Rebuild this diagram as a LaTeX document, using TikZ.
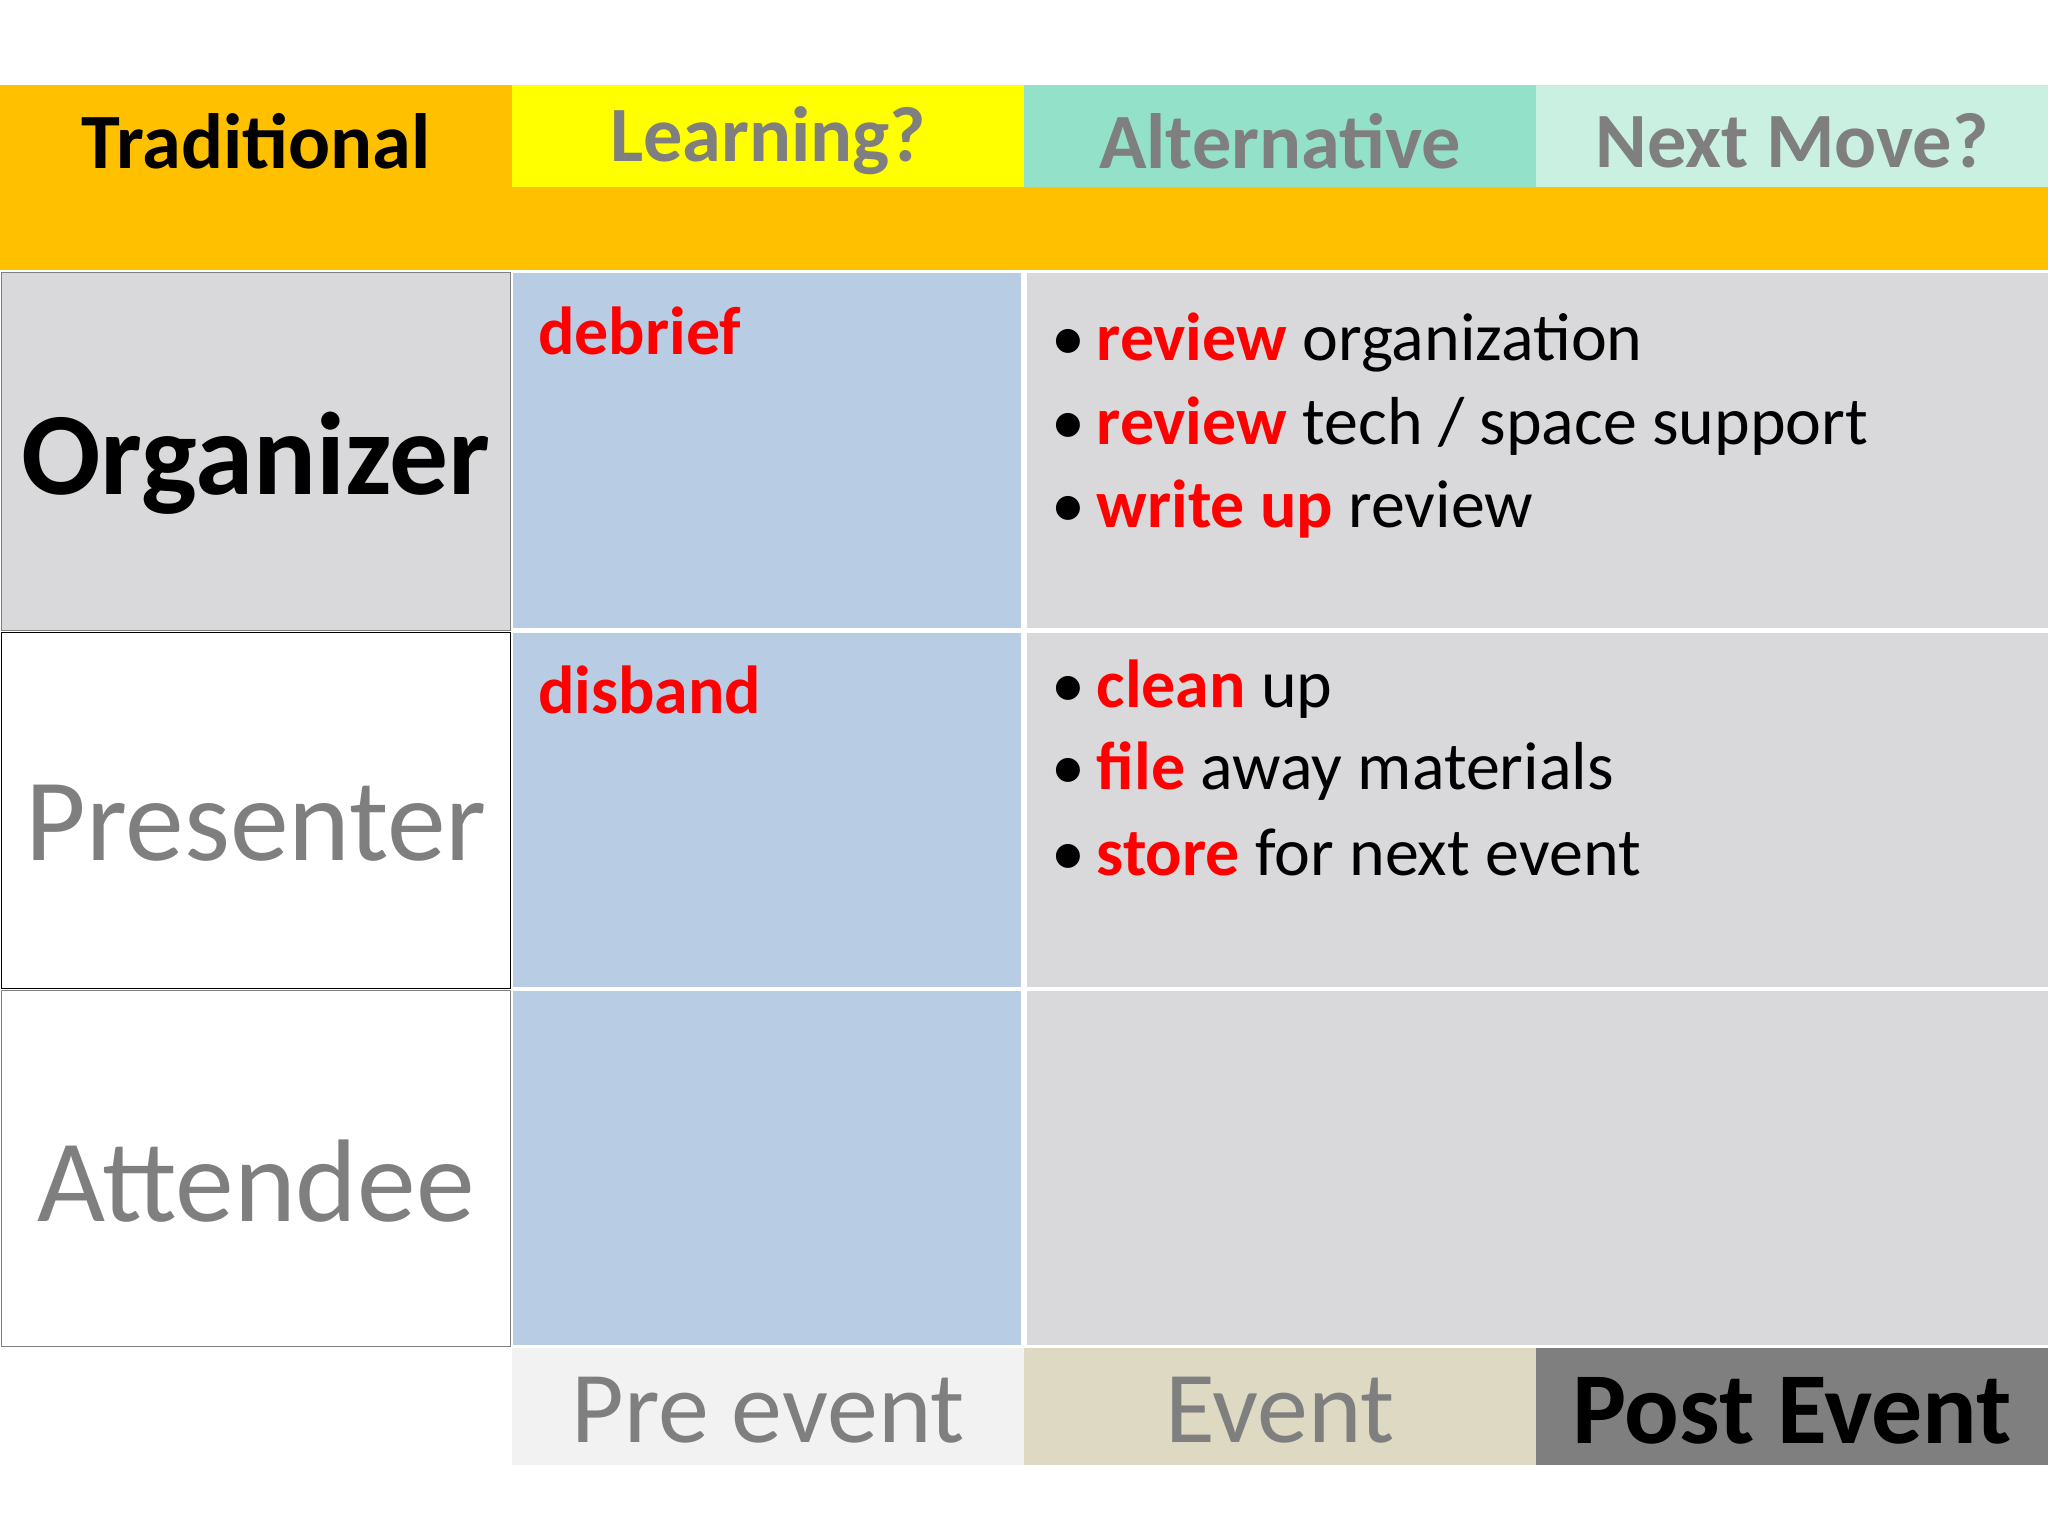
\documentclass[tikz,border=0pt]{standalone}
\usepackage{fontspec}
\setmainfont{Carlito}
\definecolor{org}{HTML}{FFC000}
\definecolor{yel}{HTML}{FFFF00}
\definecolor{teal1}{HTML}{93E1C8}
\definecolor{teal2}{HTML}{C9F0E0}
\definecolor{blu}{HTML}{B8CCE4}
\definecolor{gry}{HTML}{D9D9DB}
\definecolor{txg}{HTML}{7F7F7F}
\definecolor{rd}{HTML}{FF0000}
\definecolor{ev}{HTML}{DDD9C3}
\begin{document}
\begin{tikzpicture}[x=0.5pt,y=-0.5pt,
  hdr/.style={font=\fontsize{30}{34}\selectfont\bfseries},
  role/.style={font=\fontsize{45}{50}\selectfont},
  bl/.style={font=\fontsize{26}{30}\selectfont, anchor=west},
  ph/.style={font=\fontsize{39}{44}\selectfont}]
\useasboundingbox (0,0) rectangle (1568,1176);
\fill[white] (0,0) rectangle (1568,1176);
% header
\fill[org] (0,65) rectangle (392,143);
\fill[yel] (392,65) rectangle (784,143);
\fill[teal1] (784,65) rectangle (1176,143);
\fill[teal2] (1176,65) rectangle (1568,143);
\fill[org] (0,143) rectangle (1568,207);
\node[hdr] (h1) at (196,108) {Traditional};
\node[hdr,text=txg] (h2) at (588,108) {Learning?};
\node[hdr,text=txg] (h3) at (980,108) {Alternative};
\node[hdr,text=txg] (h4) at (1372,108) {Next Move?};
% left column
\filldraw[fill=gry,draw=txg] (1,209) rectangle (391,483);
\filldraw[fill=white,draw=black] (1,484) rectangle (391,757);
\filldraw[fill=white,draw=gray] (1,758) rectangle (391,1031);
\node[role,font=\fontsize{45}{50}\selectfont\bfseries] (r1) at (196,355) {Organizer};
\node[role,text=txg] (r2) at (196,630) {Presenter};
\node[role,text=txg] (r3) at (196,904) {Attendee};
% cells
\foreach \ya/\yb in {209/481,485/756,759/1030}{
  \fill[blu] (393,\ya) rectangle (782,\yb);
  \fill[gry] (786,\ya) rectangle (1568,\yb);
}
\node[bl,font=\fontsize{26}{30}\selectfont\bfseries,text=rd] (d1) at (405,253) {debrief};
\node[bl,font=\fontsize{26}{30}\selectfont\bfseries,text=rd] (d2) at (405,528) {disband};
\node[bl] (a1) at (798,262) {•\,\textcolor{rd}{\bfseries review} organization};
\node[bl] (a2) at (798,326) {•\,\textcolor{rd}{\bfseries review} tech / space support};
\node[bl] (a3) at (798,390) {•\,\textcolor{rd}{\bfseries write up} review};
\node[bl] (b1) at (798,528) {•\,\textcolor{rd}{\bfseries clean} up};
\node[bl] (b2) at (798,590) {•\,\textcolor{rd}{\bfseries file} away materials};
\node[bl] (b3) at (798,653) {•\,\textcolor{rd}{\bfseries store} for next event};
% bottom
\fill[black!5] (392,1032) rectangle (784,1122);
\fill[ev] (784,1032) rectangle (1176,1122);
\fill[txg] (1176,1032) rectangle (1568,1122);
\node[ph,text=txg] (p1) at (588,1080) {Pre event};
\node[ph,text=txg] (p2) at (980,1080) {Event};
\node[ph,font=\fontsize{39}{44}\selectfont\bfseries] (p3) at (1372,1080) {Post Event};
\end{tikzpicture}
\end{document}
